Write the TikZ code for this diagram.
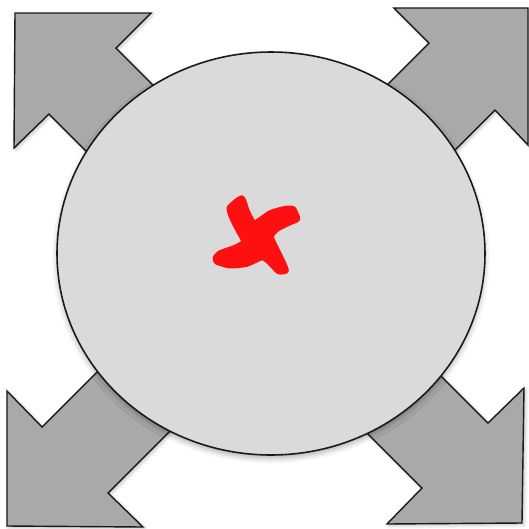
\documentclass[tikz,border=0pt]{standalone}
\usepackage{tikz}
\usetikzlibrary{shadows.blur}
\definecolor{gArrow}{HTML}{A9A9A9}
\definecolor{gDisc}{HTML}{DADADA}
\definecolor{gLine}{HTML}{1A1A1A}
\definecolor{xRed}{HTML}{FF1010}
\tikzset{
  setB/.style={
    x=0.02cm, y=-0.02cm,
    line cap=round, line join=miter,
  },
  bigArrow/.style={
    draw=gLine, fill=gArrow, line width=0.8pt,
    blur shadow={shadow xshift=1pt, shadow yshift=-1pt,
                 shadow blur radius=2pt, shadow opacity=25},
  },
  disc/.style={
    draw=gLine, fill=gDisc, line width=0.9pt,
    blur shadow={shadow xshift=0pt, shadow yshift=-2pt,
                 shadow blur radius=3pt, shadow opacity=30},
  },
  crossMark/.style={fill=xRed, draw=xRed, line width=2.6pt, line join=round},
}

\begin{document}
\begin{tikzpicture}[setB]

% ============================================================
% Page frame (pixel grid of the reference, y downwards).
% ============================================================
\useasboundingbox (0,0) rectangle (529,529);

% ============================================================
% Four arrows pointing out to the corners, under the disc.
% ============================================================
% upper left
\filldraw[bigArrow]
  (15,13) -- (151,13) -- (116,48) -- (176,108)
  -- (109,174) -- (49,114) -- (14,148) -- cycle;
% upper right
\filldraw[bigArrow]
  (528,8) -- (528,145) -- (495,110) -- (435,170)
  -- (369,103) -- (429,43) -- (394,8) -- cycle;
% lower left
\filldraw[bigArrow]
  (7,526) -- (7,391) -- (42,427) -- (112,357)
  -- (178,423) -- (108,493) -- (143,527) -- cycle;
% lower right
\filldraw[bigArrow]
  (522,523) -- (387,524) -- (422,488) -- (352,418)
  -- (418,353) -- (488,423) -- (524,388) -- cycle;

% ============================================================
% Central disc.
% ============================================================
\def\discCx{271}
\def\discCy{253.5}
\filldraw[disc] (\discCx,\discCy) ellipse [x radius=214, y radius=201.5];

% ============================================================
% Red brush cross in the middle.
% ============================================================
\filldraw[crossMark] plot[smooth cycle, tension=0.35] coordinates {
  (242,197.5) (247.5,211) (254.5,222.5)
  (270,212.5) (285,208.2) (293.5,208.5) (298,219)
  (290,223) (278,229) (271.5,236.5)
  (278,251) (284,263.3) (286.5,271) (278.5,272)
  (269,262.5) (262,258)
  (247,264.5) (230,266.2) (216.5,262.3) (215,257.5)
  (220,252.5) (232.5,248) (243.5,242)
  (238.5,231.7) (231.7,218.3) (229,207.5)
};

\end{tikzpicture}
\end{document}
